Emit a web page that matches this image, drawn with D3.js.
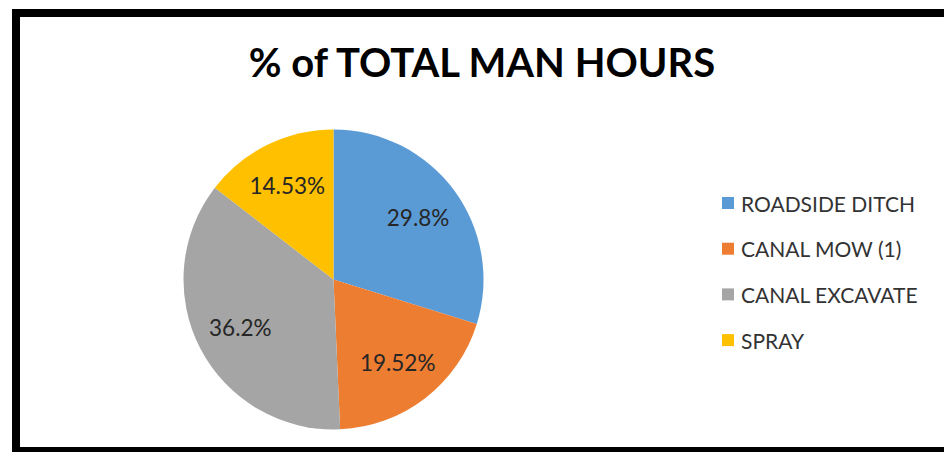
<!DOCTYPE html>
<html>
<head>
<meta charset="utf-8">
<script src="https://cdn.jsdelivr.net/npm/d3@7"></script>
<style>
  html, body { margin: 0; padding: 0; background: #fff; }
  svg { display: block; }
</style>
</head>
<body>
<svg id="chart" width="944" height="452"></svg>
<script>
const categories = ["ROADSIDE DITCH", "CANAL MOW (1)", "CANAL EXCAVATE", "SPRAY"];
const values = [29.8, 19.52, 36.2, 14.53];
const labels = ["29.8%", "19.52%", "36.2%", "14.53%"];
const colors = ["#5B9BD5", "#ED7D31", "#A5A5A5", "#FFC000"];
const title = "% of TOTAL MAN HOURS";

const svg = d3.select("#chart");
const font = "Lato, Calibri, 'Open Sans', sans-serif";

// frame
svg.append("rect").attr("x", 0).attr("y", 0).attr("width", 944).attr("height", 452).attr("fill", "#fff");
svg.append("rect")
  .attr("x", 16).attr("y", 13).attr("width", 960).attr("height", 438)
  .attr("fill", "none").attr("stroke", "#000").attr("stroke-width", 8);

svg.append("text")
  .attr("x", 482).attr("y", 77)
  .attr("text-anchor", "middle")
  .attr("font-family", font).attr("font-weight", "bold")
  .attr("font-size", 40).attr("fill", "#000")
  .text(title);

const cx = 333.5, cy = 279.5, r = 150;
const data = categories.map((c, i) => ({ cat: c, value: values[i], label: labels[i], color: colors[i] }));
const pie = d3.pie().value(d => d.value).sort(null);
const arc = d3.arc().innerRadius(0).outerRadius(r);
const labelArc = d3.arc().innerRadius(r * 0.7).outerRadius(r * 0.7);

const g = svg.append("g").attr("transform", `translate(${cx},${cy})`);
const arcs = pie(data);
g.selectAll("path").data(arcs).join("path")
  .attr("d", arc).attr("fill", d => d.data.color);

g.selectAll("text").data(arcs).join("text")
  .attr("transform", d => `translate(${labelArc.centroid(d)})`)
  .attr("text-anchor", "middle").attr("dominant-baseline", "central")
  .attr("font-family", font).attr("font-size", 22.5).attr("fill", "#262626")
  .text(d => d.data.label);

const legend = svg.append("g").attr("transform", "translate(722,203)");
const rows = legend.selectAll("g").data(data).join("g")
  .attr("transform", (d, i) => `translate(0,${i * 45.7})`);
rows.append("rect").attr("x", 0).attr("y", -6).attr("width", 12).attr("height", 12)
  .attr("fill", d => d.color);
rows.append("text").attr("x", 19).attr("y", 0)
  .attr("dominant-baseline", "central")
  .attr("font-family", font).attr("font-size", 21).attr("fill", "#333")
  .text(d => d.cat);
</script>
</body>
</html>
